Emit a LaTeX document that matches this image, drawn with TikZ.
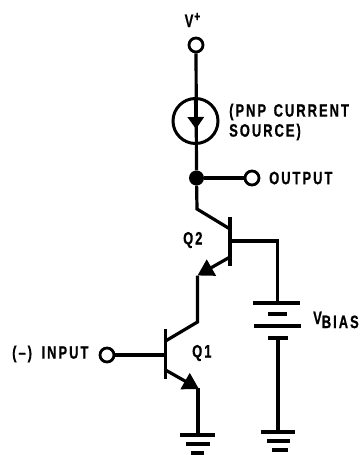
\documentclass[tikz,border=0pt]{standalone}
\usepackage{fontspec}
\usepackage{tikz}
\usetikzlibrary{arrows.meta}
\newfontfamily\labelfont[FakeStretch=0.72,FakeBold=0.6,LetterSpace=11]{Liberation Sans Bold}
\tikzset{
	wire/.style={line width=3.2pt},
	plate/.style={line width=3.4pt},
	terminal/.style={circle, draw, line width=2.8pt, fill=white, minimum size=14pt, inner sep=0pt},
	junction/.style={circle, fill=black, minimum size=15pt, inner sep=0pt},
	label/.style={font=\labelfont\fontsize{18}{18}\selectfont, inner sep=0pt, anchor=west},
	tip/.style={-{Triangle[length=16pt,width=18pt]}},
	smalltip/.style={-{Triangle[length=12pt,width=16pt]}}
}
\begin{document}
\begin{tikzpicture}[x=1pt,y=-1pt]
			\useasboundingbox (0,0) rectangle (361,455);

			% TERMINALS
			\node[terminal] (Vp) at (196,45) {};
			\node[terminal] (Out) at (252,178) {};
			\node[terminal] (In) at (107,355) {};
			\node[junction] (J) at (196.5,178) {};

			% CURRENT SOURCE
			\node[circle, draw, line width=3pt, minimum size=45pt, inner sep=0pt] (Src) at (195.5,121) {};
			\coordinate (SrcTip) at (196,129);
			\draw[wire] (Vp) -- (J);
			\draw[wire, smalltip] (Src.north) -- (SrcTip);
			\draw[wire] (J) -- (Out);

			% Q2
			\coordinate (Q2top) at (230,217);
			\coordinate (Q2bot) at (230,266);
			\coordinate (Q2c) at (230,229);
			\coordinate (Q2b) at (230,241);
			\coordinate (Q2e) at (230,257);
			\coordinate (Bend) at (197,209);
			\coordinate (Q2tip) at (197.5,275.5);
			\coordinate (Mid) at (197.5,322);
			\draw[plate] (Q2top) -- (Q2bot);
			\draw[wire] (J) -- (Bend) -- (Q2c);
			\draw[wire, tip] (Q2e) -- (Q2tip);

			% Q1
			\coordinate (Q1top) at (165.5,329);
			\coordinate (Q1bot) at (165.5,379);
			\coordinate (Q1c) at (165.5,341);
			\coordinate (Q1b) at (165.5,355);
			\coordinate (Q1e) at (165.5,370);
			\coordinate (Q1tip) at (199,389);
			\coordinate (Q1drop) at (198,388);
			\draw[plate] (Q1top) -- (Q1bot);
			\draw[wire] (Q2tip) -- (Mid) -- (Q1c);
			\draw[wire] (In) -- (Q1b);
			\draw[wire, tip] (Q1e) -- (Q1tip);

			% GROUND OF Q1
			\coordinate (G1) at (198,435);
			\draw[wire] (Q1drop) -- (G1);
			\draw[plate] (180,435) -- (215,435);
			\draw[plate] (186,444) -- (210,444);
			\draw[plate] (191,453) -- (204,453);

			% BATTERY
			\coordinate (BatTop) at (277.5,303);
			\coordinate (BatBot) at (278,338);
			\coordinate (G2) at (278,432);
			\draw[wire] (Q2b) -- (277.5,241) -- (BatTop);
			\draw[plate] (253,303) -- (300,303);
			\draw[plate] (268,314) -- (287,314);
			\draw[plate] (254,326) -- (301,326);
			\draw[plate] (268,338) -- (288,338);
			\draw[wire] (BatBot) -- (G2);
			\draw[plate] (261,432) -- (295,432);
			\draw[plate] (267,441) -- (290,441);
			\draw[plate] (272,450) -- (288,450);

			% LABELS
			\node[label] (VpL) at (184.5,20) {V\kern1pt\raisebox{6pt}{\fontsize{14}{14}\selectfont +}};
			\node[label] (SrcA) at (229,112) {(PNP\kern2pt{} CURRENT};
			\node[label] (SrcB) at (229,132) {SOURCE)};
			\node[label] (OutL) at (269,178) {OUTPUT};
			\node[label] (Q2L) at (183,240) {Q2};
			\node[label] (Q1L) at (192,353) {Q1};
			\node[label] (InL) at (12,354) {(–)\kern4pt{} INPUT};
			\node[label] (Vb) at (313,320) {V\raisebox{-4pt}{BIAS}};
\end{tikzpicture}
\end{document}
